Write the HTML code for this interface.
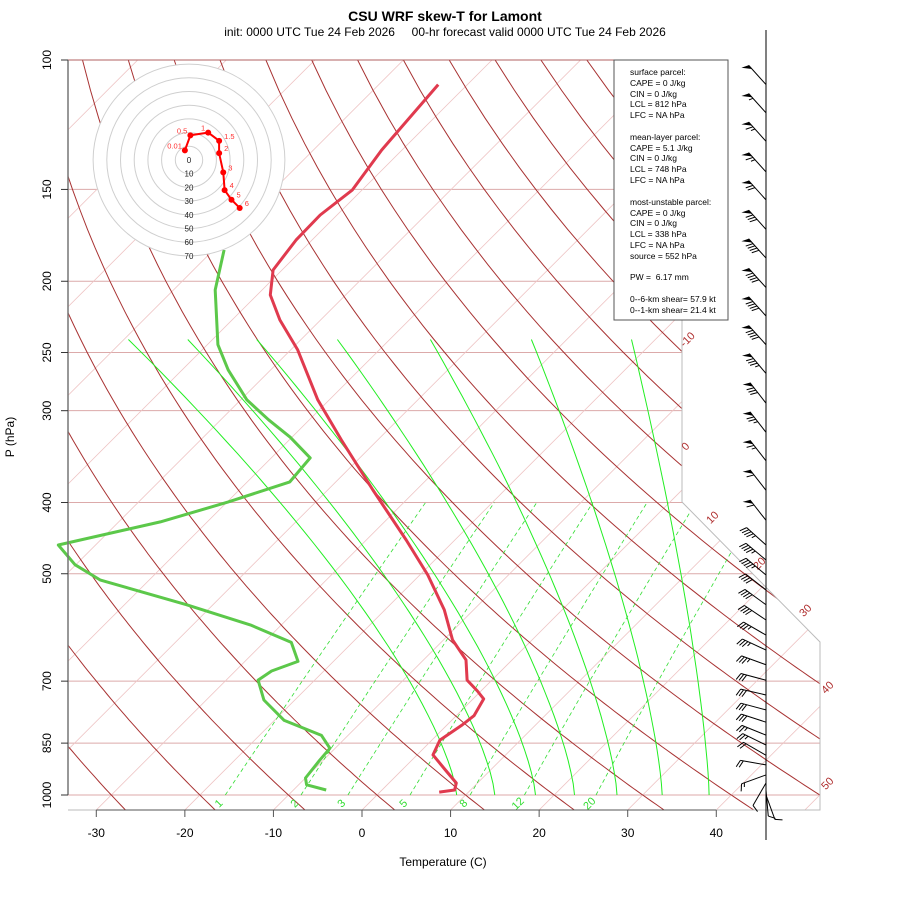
<!DOCTYPE html>
<html><head><meta charset="utf-8"><style>
html,body{margin:0;padding:0;background:#fff;}
svg{display:block;font-family:"Liberation Sans",sans-serif;}
</style></head><body>
<svg id="chart" width="900" height="900" viewBox="0 0 900 900" xmlns="http://www.w3.org/2000/svg">
<defs><clipPath id="plotclip"><path d="M68,60 L682,60 L682,502 L820,642 L820,810 L68,810 Z"/></clipPath></defs>
<rect width="900" height="900" fill="#fff"/>
<text x="445" y="21" text-anchor="middle" font-size="14" font-weight="bold">CSU WRF skew-T for Lamont</text>
<text x="445" y="36" text-anchor="middle" font-size="12" xml:space="preserve" style="white-space:pre">init: 0000 UTC Tue 24 Feb 2026     00-hr forecast valid 0000 UTC Tue 24 Feb 2026</text>
<g id="grid" clip-path="url(#plotclip)"></g>
<g id="frame">
<path d="M682,60 L682,502 L820,642 L820,810 L68,810" fill="none" stroke="#bbb" stroke-width="1"/>
<line x1="68" y1="60" x2="682" y2="60" stroke="#b06060" stroke-width="1"/>
</g>
<g id="labels"></g>
<g id="profiles2"></g>
<g id="axes"></g>
<g id="hodo"></g>
<g id="winds"></g>
<g font-size="8.5" fill="#000">
<rect x="614" y="60" width="114" height="260" fill="#fff" stroke="#555" stroke-width="1"/>
<text x="630" y="75">surface parcel:</text>
<text x="630" y="86">CAPE = 0 J/kg</text>
<text x="630" y="97">CIN = 0 J/kg</text>
<text x="630" y="107">LCL = 812 hPa</text>
<text x="630" y="118">LFC = NA hPa</text>
<text x="630" y="140">mean-layer parcel:</text>
<text x="630" y="151">CAPE = 5.1 J/kg</text>
<text x="630" y="161">CIN = 0 J/kg</text>
<text x="630" y="172">LCL = 748 hPa</text>
<text x="630" y="183">LFC = NA hPa</text>
<text x="630" y="205">most-unstable parcel:</text>
<text x="630" y="216">CAPE = 0 J/kg</text>
<text x="630" y="226">CIN = 0 J/kg</text>
<text x="630" y="237">LCL = 338 hPa</text>
<text x="630" y="248">LFC = NA hPa</text>
<text x="630" y="259">source = 552 hPa</text>
<text x="630" y="280" xml:space="preserve" style="white-space:pre">PW =  6.17 mm</text>
<text x="630" y="302">0--6-km shear= 57.9 kt</text>
<text x="630" y="313">0--1-km shear= 21.4 kt</text>
</g>
<text x="443" y="866" text-anchor="middle" font-size="12">Temperature (C)</text>
<text x="14" y="437" text-anchor="middle" font-size="12" transform="rotate(-90 14 437)">P (hPa)</text>
</svg>
<script>
// ---- data ----
const tempP = [108,132.6,150.2,162.5,175.8,193.1,208.8,225.8,248,290,328.9,384.6,449.8,502,560,615,655,697.7,722,740,780,803,842,882,924.6,963,984.5,991];
const tempT = [-73.3,-72.3,-71.1,-71.9,-71.8,-71.0,-68.5,-64.6,-59.2,-51.3,-44.1,-34.9,-25.5,-19.1,-13.3,-9.0,-5.2,-2.8,-0.4,1.2,2.0,1.7,0.9,1.8,4.9,7.6,8.2,6.7];
const dewP = [181.3,205.5,244,264,290,308.7,326,347.8,375,399.5,425,457,486,510,551,587,620,658,678,697.7,742.6,791.5,829.6,863.8,896.7,948,968.7,984.5];
const dewT = [-78.8,-75.3,-68.8,-64.8,-59.3,-54.6,-50.2,-45.6,-45.2,-49.9,-55.3,-64.2,-60.1,-55.5,-43.0,-33.5,-26.9,-24.0,-25.9,-26.4,-23.5,-18.9,-13.0,-10.6,-10.4,-10.0,-9.1,-6.3];
const barbP = [108,118,129,142,155,170,186,204,223,244,267,293,321,351,385,423,457,479,502,526,551,578,606,635,665,698,731,766,796,829,855,883,910,939,963,985,1000];
const barbDir = [318,318,318,318,318,318,318,318,318,318,320,322,322,322,322,322,312,310,310,308,306,304,300,295,290,285,283,285,288,292,296,300,280,250,210,175,160];
const barbSpd = [50,55,65,65,70,80,90,90,90,90,85,80,75,65,60,60,45,45,45,40,40,40,35,35,35,30,30,30,30,25,25,20,20,15,10,10,10];
const hodoU = [-3,1,14,22,22,25,26,31,37];
const hodoV = [7,18,20,14,5,-9,-22,-29,-35];
const hodoLbl = ["0.01","0.5","1","1.5","2","3","4","5","6"];
const hodoRings = [10,20,30,40,50,60,70];
const tTicks = [-30,-20,-10,0,10,20,30,40];
const pTicks = [100,150,200,250,300,400,500,700,850,1000];
const isoLabelT = [-10,0,10,20,30,40,50];
const mixW = [1,2,3,5,8,12,20];
const moistT1000 = [9.0,13.3,17.9,22.3,27.1,32.2,37.5];
const moistTtop = [-79.5,-72.8,-65.0,-55.9,-45.4,-34.0,-22.7];
const thetaList = [];for(let t=-30;t<=170;t+=10)thetaList.push(t);
const isoList = [];for(let t=-130;t<=50;t+=10)isoList.push(t);

// ---- axes functions ----
const NS="http://www.w3.org/2000/svg";
function yP(p){return 60+735*Math.log10(p/100);}
function xT(T,p){return 362+8.857*T+(810-yP(p));}
function mk(tag,attrs,parent){const e=document.createElementNS(NS,tag);for(const k in attrs)e.setAttribute(k,attrs[k]);parent.appendChild(e);return e;}
const grid=document.getElementById('grid');
const labels=document.getElementById('labels');
const axes=document.getElementById('axes');

pTicks.forEach(p=>{if(p===100)return;
 const l=mk('line',{x1:68,x2:820,y1:yP(p),y2:yP(p),stroke:'#dcaaaa','stroke-width':1},grid);
 
 
});
isoList.forEach(T=>{
 const l=mk('line',{x1:xT(T,1050),y1:yP(1050),x2:xT(T,100),y2:yP(100),stroke:'#eec4c4','stroke-width':0.8},grid);
 
 
});
thetaList.forEach(th=>{
 let d='';for(let p=1050;p>=100;p-=10){const T=(th+273.15)*Math.pow(p/1000,0.286)-273.15;d+=(d?'L':'M')+xT(T,p).toFixed(1)+','+yP(p).toFixed(1);}
 const l=mk('path',{d:d,fill:'none',stroke:'#a83232','stroke-width':1},grid);
 
 
});
moistT1000.forEach((tb,i)=>{
 const xb=xT(tb,1000),yb=yP(1000),xt=xT(moistTtop[i],240),yt=yP(240);
 let d='';for(let k=0;k<=40;k++){const y=yb-(yb-yt)*k/40;const f=Math.pow((yb-y)/(yb-yt),1.4);d+=(d?'L':'M')+(xb+(xt-xb)*f).toFixed(1)+','+y.toFixed(1);}
 const l=mk('path',{d:d,fill:'none',stroke:'#22ee22','stroke-width':1},grid);
 
 
});
mixW.forEach(w=>{
 let d='';for(let p=1000;p>=400;p-=20){const e=w*p/(622+w);const a=Math.log(e/6.112);const Td=243.5*a/(17.67-a);d+=(d?'L':'M')+xT(Td,p).toFixed(1)+','+yP(p).toFixed(1);}
 const l=mk('path',{d:d,fill:'none',stroke:'#33dd33','stroke-width':0.8,'stroke-dasharray':'4,3'},grid);
 
 
 const e=w*1000/(622+w);const a=Math.log(e/6.112);const Td=243.5*a/(17.67-a);
 const lx=xT(Td,1000)-4,ly=806;
 const t=mk('text',{x:lx,y:ly,'font-size':11,fill:'#33dd33','text-anchor':'middle',transform:'rotate(-45 '+lx+' '+ly+')'},labels);
 t.textContent=w;
 
 
});
const isoLabPos={'-10':[690,342],'0':[688,449],'10':[715,520],'20':[762,566],'30':[808,613],'40':[830,690],'50':[830,786]};
isoLabelT.forEach(T=>{const q=isoLabPos[String(T)];
 const t=mk('text',{x:q[0],y:q[1],'font-size':11,fill:'#b03030','text-anchor':'middle',transform:'rotate(-45 '+q[0]+' '+q[1]+')'},labels);
 t.textContent=T;
 
 
});
function prof(P,T,color,name){
 let d='';P.forEach((p,i)=>{d+=(d?'L':'M')+xT(T[i],p).toFixed(1)+','+yP(p).toFixed(1);});
 const l=mk('path',{d:d,fill:'none',stroke:color,'stroke-width':3,'stroke-linejoin':'round'},document.getElementById('profiles2'));
 
 
}
prof(tempP,tempT,'#e03a4e','temperature-profile');
prof(dewP,dewT,'#5cc84a','dewpoint-profile');

mk('line',{x1:68,y1:60,x2:68,y2:795,stroke:'#777','stroke-width':1.5},axes);
pTicks.forEach(p=>{const y=yP(p);
 mk('line',{x1:61,x2:68,y1:y,y2:y,stroke:'#333','stroke-width':1},axes);
 const t=mk('text',{x:51,y:y,'font-size':12,'text-anchor':'middle',transform:'rotate(-90 51 '+y+')'},axes);
 t.textContent=p;
 
 
});
mk('line',{x1:362+8.857*-30,y1:810,x2:362+8.857*40,y2:810,stroke:'#555','stroke-width':1},axes);
tTicks.forEach(T=>{const x=362+8.857*T;
 mk('line',{x1:x,x2:x,y1:810,y2:817,stroke:'#555','stroke-width':1},axes);
 const t=mk('text',{x:x,y:837,'font-size':12,'text-anchor':'middle'},axes);
 t.textContent=T;
 
 
});

const hodo=document.getElementById('hodo');
const hc=[189,160],hs=1.37;
mk('circle',{cx:hc[0],cy:hc[1],r:70*hs,fill:'#fff',stroke:'none'},hodo);
hodoRings.forEach(r=>{mk('circle',{cx:hc[0],cy:hc[1],r:r*hs,fill:'none',stroke:'#cfcfcf','stroke-width':1},hodo);});
[0].concat(hodoRings).forEach(r=>{
 const t=mk('text',{x:hc[0],y:hc[1]+r*hs+3,'font-size':8,'text-anchor':'middle',fill:'#222'},hodo);
 t.textContent=r;
 
 
});
let hd='';hodoU.forEach((u,i)=>{hd+=(hd?'L':'M')+(hc[0]+u*hs).toFixed(1)+','+(hc[1]-hodoV[i]*hs).toFixed(1);});
mk('path',{d:hd,fill:'none',stroke:'#ff0000','stroke-width':2},hodo);
hodoU.forEach((u,i)=>{const x=hc[0]+u*hs,y=hc[1]-hodoV[i]*hs;
 const c=mk('circle',{cx:x,cy:y,r:3,fill:'#ff0000'},hodo);
 
 
 const left=i<3;
 const t=mk('text',{x:left?x-3:x+5,y:y-2,'font-size':7.5,fill:'#ff3030','text-anchor':left?'end':'start'},hodo);
 t.textContent=hodoLbl[i];
 
 
});

const winds=document.getElementById('winds');
mk('line',{x1:766,y1:30,x2:766,y2:840,stroke:'#000','stroke-width':1},winds);
barbP.forEach((p,i)=>{
 const g=mk('g',{},winds);
 
 
 const d=barbDir[i]*Math.PI/180,L=26;
 const bx=766,by=yP(p);const ux=Math.sin(d),uy=-Math.cos(d);
 const tx=bx+L*ux,ty=by+L*uy;
 mk('line',{x1:bx,y1:by,x2:tx,y2:ty,stroke:'#000','stroke-width':1},g);
 const fx=uy,fy=-ux;
 let s=Math.round(barbSpd[i]/5)*5;let pos=0;
 const px=(o)=>[tx-ux*o,ty-uy*o];
 while(s>=50){const a=px(pos),b=px(pos+5);
  mk('path',{d:`M${a[0]},${a[1]}L${a[0]+fx*7+ux*3},${a[1]+fy*7+uy*3}L${b[0]},${b[1]}Z`,fill:'#000'},g);pos+=6.5;s-=50;}
 while(s>=10){const a=px(pos);mk('line',{x1:a[0],y1:a[1],x2:a[0]+fx*7+ux*3,y2:a[1]+fy*7+uy*3,stroke:'#000','stroke-width':1},g);pos+=3;s-=10;}
 if(s>=5){if(pos===0)pos=3;const a=px(pos);mk('line',{x1:a[0],y1:a[1],x2:a[0]+fx*4+ux*1.5,y2:a[1]+fy*4+uy*1.5,stroke:'#000','stroke-width':1},g);}
});
</script>
</body></html>
